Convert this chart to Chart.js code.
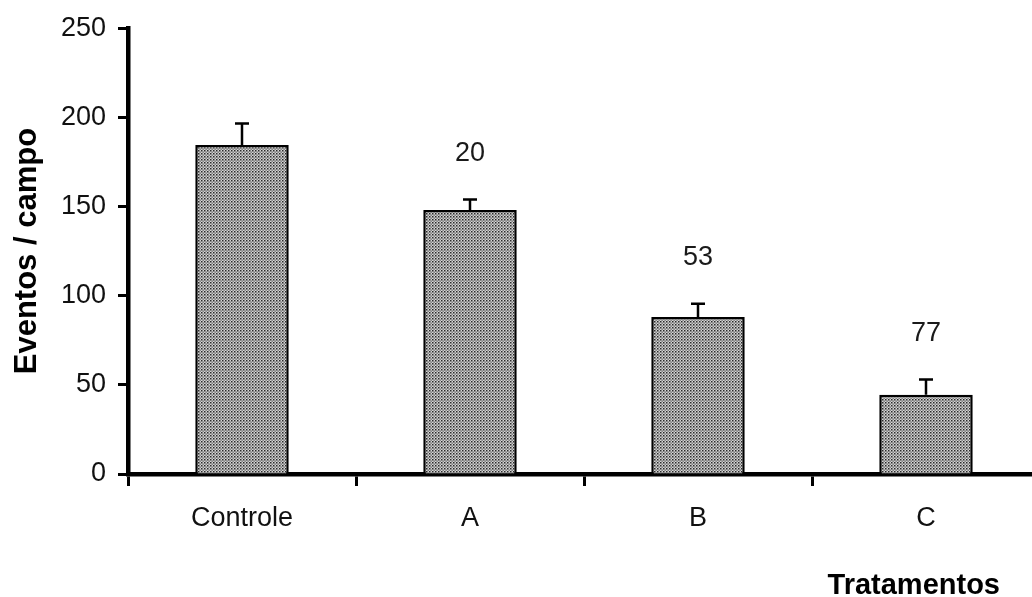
<!DOCTYPE html>
<html>
<head>
<meta charset="utf-8">
<script src="https://cdn.jsdelivr.net/npm/chart.js@4"></script>
<style>
  html, body { margin: 0; padding: 0; background: #fff; overflow: hidden; }
  #wrap { width: 1044px; height: 597px; }
</style>
</head>
<body>
<div id="wrap"><canvas id="grafico" width="1044" height="597"></canvas></div>
<script>
// dados
const categorias = ['Controle', 'A', 'B', 'C'];
const medias = [184.5, 148, 88, 44.5];
const erros = [12, 6, 7.5, 8.5];
const rotulos = ['', '20', '53', '77'];

const FONTE = '"Liberation Sans", Arial, sans-serif';

// textura pontilhada das barras
function criarPadrao() {
  const c = document.createElement('canvas');
  c.width = 3; c.height = 3;
  const g = c.getContext('2d');
  g.fillStyle = '#d4d4d4';
  g.fillRect(0, 0, 3, 3);
  g.fillStyle = '#2a2a2a';
  g.fillRect(0, 0, 1.5, 1.5);
  g.fillStyle = '#5a5a5a';
  g.fillRect(1.5, 1.5, 1.3, 1.3);
  return g.createPattern(c, 'repeat');
}

// barras de erro (só a parte superior) e rótulos acima
const pluginErros = {
  id: 'erros',
  afterDatasetsDraw(chart) {
    const ctx = chart.ctx;
    const meta = chart.getDatasetMeta(0);
    const y = chart.scales.y;
    ctx.save();
    meta.data.forEach((bar, i) => {
      const topo = y.getPixelForValue(medias[i] + erros[i]);
      ctx.strokeStyle = '#000';
      ctx.lineWidth = 2.5;
      ctx.beginPath();
      ctx.moveTo(bar.x, bar.y);
      ctx.lineTo(bar.x, topo);
      ctx.moveTo(bar.x - 7, topo);
      ctx.lineTo(bar.x + 7, topo);
      ctx.stroke();
      if (rotulos[i]) {
        ctx.fillStyle = '#1a1a1a';
        ctx.font = '27px ' + FONTE;
        ctx.textAlign = 'center';
        ctx.textBaseline = 'middle';
        ctx.fillText(rotulos[i], bar.x, topo - 46);
      }
    });
    ctx.restore();
  },
  afterDraw(chart) {
    const ctx = chart.ctx;
    ctx.save();
    ctx.fillStyle = '#000';
    ctx.font = 'bold 29px ' + FONTE;
    ctx.textAlign = 'right';
    ctx.textBaseline = 'alphabetic';
    ctx.fillText('Tratamentos', chart.chartArea.right - 40, 594);
    ctx.restore();
  }
};

new Chart(document.getElementById('grafico').getContext('2d'), {
  type: 'bar',
  data: {
    labels: categorias,
    datasets: [{
      data: medias,
      backgroundColor: criarPadrao(),
      borderColor: '#000',
      borderWidth: 2.5,
      borderSkipped: 'bottom',
      barPercentage: 0.41,
      categoryPercentage: 1
    }]
  },
  options: {
    responsive: false,
    animation: false,
    devicePixelRatio: 1,
    layout: { padding: { top: 25, right: 4, left: 0, bottom: 0 } },
    plugins: { legend: { display: false }, tooltip: { enabled: false } },
    scales: {
      x: {
        offset: true,
        grid: { offset: true, drawOnChartArea: false, drawTicks: true, tickLength: 12, tickWidth: 3, tickColor: '#000' },
        border: { display: true, width: 4.5, color: '#000' },
        ticks: { font: { family: FONTE, size: 27 }, color: '#111', padding: 16 },
        afterFit(s) { s.height = 123; }
      },
      y: {
        min: 0,
        max: 250,
        ticks: { stepSize: 50, font: { family: FONTE, size: 27 }, color: '#111', padding: 12 },
        grid: { drawOnChartArea: false, drawTicks: true, tickLength: 10, tickWidth: 3, tickColor: '#000' },
        border: { display: true, width: 4.5, color: '#000' },
        title: {
          display: true,
          text: 'Eventos / campo',
          font: { family: FONTE, size: 31, weight: 'bold' },
          color: '#000',
          padding: { top: 9, bottom: 0 }
        },
        afterFit(s) { s.width = 128; }
      }
    }
  },
  plugins: [pluginErros]
});
</script>
</body>
</html>
